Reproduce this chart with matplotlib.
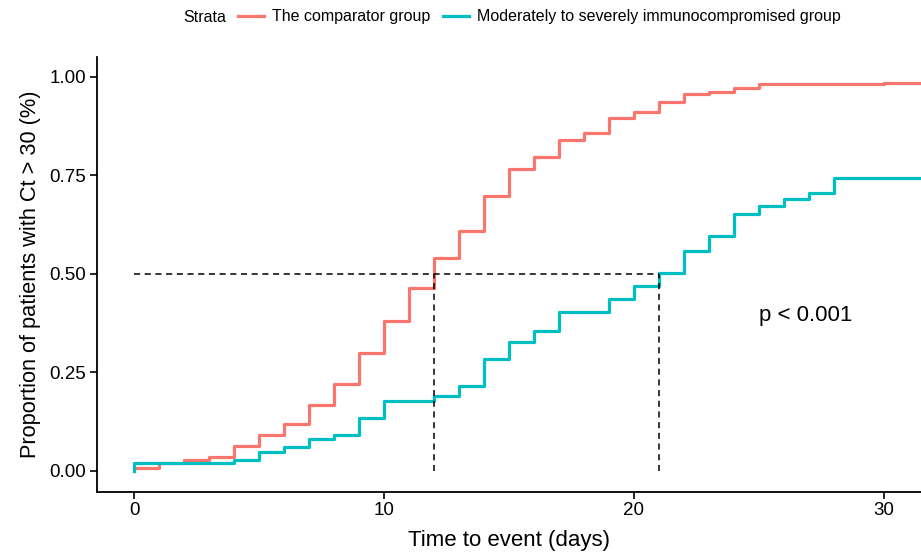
import matplotlib
matplotlib.use('Agg')
import matplotlib.pyplot as plt
from matplotlib.lines import Line2D

plt.rcParams['font.family'] = ['Liberation Sans', 'DejaVu Sans']

# comparator group (red)
t_comp = [0, 0, 1, 2, 3, 4, 5, 6, 7, 8, 9, 10, 11, 12, 13, 14, 15, 16, 17, 18, 19, 20, 21, 22, 23, 24, 25, 30, 32]
p_comp = [0, 0.008, 0.02, 0.028, 0.036, 0.062, 0.091, 0.118, 0.166, 0.22, 0.298, 0.381, 0.465, 0.54, 0.609,
          0.696, 0.766, 0.796, 0.838, 0.857, 0.894, 0.911, 0.935, 0.955, 0.962, 0.971, 0.981, 0.984, 0.984]
# immunocompromised group (teal)
t_immu = [0, 0, 4, 5, 6, 7, 8, 9, 10, 12, 13, 14, 15, 16, 17, 19, 20, 21, 22, 23, 24, 25, 26, 27, 28, 32]
p_immu = [0, 0.02, 0.028, 0.049, 0.06, 0.08, 0.09, 0.134, 0.178, 0.19, 0.216, 0.284, 0.327, 0.356, 0.403,
          0.436, 0.47, 0.503, 0.558, 0.595, 0.651, 0.671, 0.69, 0.706, 0.743, 0.743]

# median times
med_comp = 12
med_immu = 21

red = '#F8766D'
teal = '#00BFC4'

fig = plt.figure(figsize=(9.21, 5.52), dpi=100)
ax = fig.add_axes([0.105, 0.109, 0.895, 0.788])

ax.step(t_comp, p_comp, where='post', color=red, linewidth=2.3)
ax.step(t_immu, p_immu, where='post', color=teal, linewidth=2.3)

# median lines
ax.plot([0, med_immu], [0.5, 0.5], color='black', linestyle=(0, (4, 3)), linewidth=1.1)
ax.plot([med_comp, med_comp], [0, 0.5], color='black', linestyle=(0, (4, 3)), linewidth=1.1)
ax.plot([med_immu, med_immu], [0, 0.5], color='black', linestyle=(0, (4, 3)), linewidth=1.1)

ax.text(26.9, 0.395, 'p < 0.001', fontsize=16, ha='center', va='center')

ax.set_xlim(-1.5, 31.5)
ax.set_ylim(-0.053, 1.05)
ax.set_xticks([0, 10, 20, 30])
ax.set_yticks([0, 0.25, 0.5, 0.75, 1.0])
ax.set_yticklabels(['0.00', '0.25', '0.50', '0.75', '1.00'])
ax.tick_params(axis='both', labelsize=13.5, length=5, width=1.2, colors='black', direction='out', pad=2.5)
ax.spines['top'].set_visible(False)
ax.spines['right'].set_visible(False)
ax.spines['left'].set_linewidth(1.3)
ax.spines['bottom'].set_linewidth(1.3)
ax.set_xlabel('Time to event (days)', fontsize=16, labelpad=8)
ax.set_ylabel('Proportion of patients with Ct > 30 (%)', fontsize=15.7, labelpad=6)

# legend on top
fig.text(183 / 921, 1 - 17 / 552, 'Strata', fontsize=11.5, ha='left', va='center')
handles = [Line2D([], [], color=red, linewidth=2.3), Line2D([], [], color=teal, linewidth=2.3)]
fig.legend(handles, ['The comparator group', 'Moderately to severely immunocompromised group'],
           loc='center left', bbox_to_anchor=(232 / 921, 1 - 17 / 552), ncol=2, frameon=False,
           fontsize=11.5, handlelength=1.6, handletextpad=0.5, columnspacing=0.8, borderaxespad=0)

plt.savefig('out.png', dpi=100)
